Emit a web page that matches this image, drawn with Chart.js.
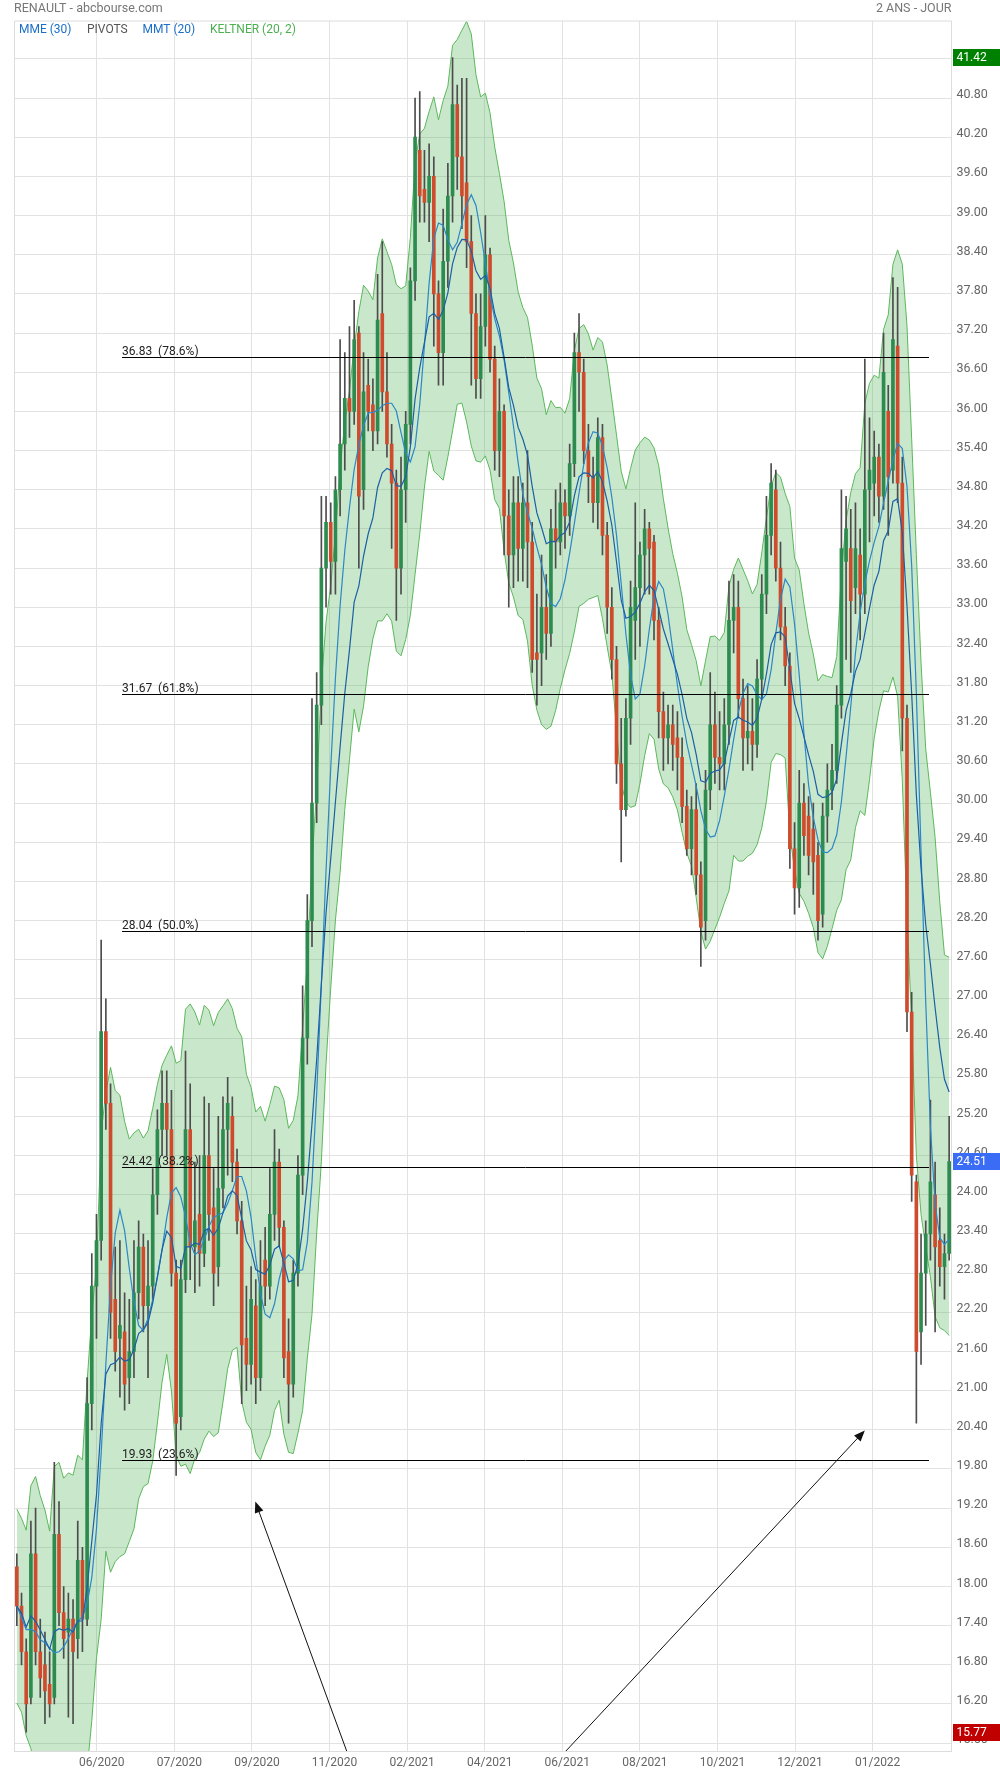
<!DOCTYPE html>
<html>
<head>
<meta charset="utf-8">
<title>RENAULT - abcbourse.com</title>
<script src="https://cdn.jsdelivr.net/npm/chart.js@4.4.1/dist/chart.umd.min.js"></script>
<style>
  html, body { margin: 0; padding: 0; background: #fff; }
  #chart { display: block; }
</style>
</head>
<body>
<canvas id="chart" width="1000" height="1774"></canvas>
<script>
// Renault, 2 years, one candle per ~2 trading days
const openPrices = [
  18.3, 17.7, 17.0, 16.3, 18.5, 17.0, 16.8, 16.5, 16.3, 18.8,
  17.6, 17.3, 17.5, 17.2, 18.4, 17.5, 20.8, 22.6, 23.3, 26.5,
  25.4, 22.4, 21.8, 21.9, 21.2, 21.6, 22.5, 23.2, 22.3, 22.6,
  24.0, 25.0, 25.4, 25.0, 22.8, 20.6, 22.7, 25.0, 23.2, 23.7,
  23.1, 24.6, 23.8, 22.9, 24.1, 25.0, 25.2, 24.5, 23.6, 21.8,
  21.4, 22.3, 21.2, 23.0, 22.6, 23.7, 24.5, 23.5, 21.6, 21.1,
  22.8, 24.3, 26.4, 28.2, 30.0, 31.5, 33.6, 34.3, 33.7, 34.8,
  35.5, 36.2, 36.0, 37.2, 34.8, 36.4, 36.1, 35.7, 37.5, 36.3,
  35.5, 34.9, 33.6, 34.8, 35.8, 38.0, 40.0, 39.4, 39.2, 39.6,
  37.8, 36.9, 38.3, 39.3, 40.7, 39.9, 39.5, 38.6, 37.5, 36.5,
  37.3, 38.4, 36.8, 35.4, 36.0, 34.4, 33.8, 34.6, 33.9, 34.6,
  34.0, 32.3, 32.3, 33.0, 32.6, 34.2, 34.0, 34.6, 34.4, 35.2,
  36.9, 36.6, 35.4, 35.0, 34.6, 35.6, 34.1, 33.0, 32.2, 30.6,
  29.9, 31.3, 32.8, 33.3, 33.8, 34.2, 34.0, 32.8, 31.4, 31.0,
  31.2, 31.0, 30.7, 29.95, 29.3, 29.9, 28.9, 28.2, 30.2, 31.2,
  30.7, 30.6, 31.2, 32.8, 33.0, 31.6, 31.0, 31.1, 30.9, 31.9,
  33.2, 34.1, 34.8, 33.6, 32.7, 32.1, 29.3, 28.7, 30.0, 29.8,
  29.6, 29.2, 28.3, 29.8, 30.2, 30.5, 31.5, 33.7, 33.9, 33.3,
  33.8, 33.2, 34.8, 34.9, 35.3, 34.7, 36.0, 35.1, 37.0, 34.9,
  31.3, 26.8, 24.2, 21.9, 22.8, 23.4, 24.0, 23.3, 22.9, 23.1
];
const highPrices = [
  18.5, 17.9, 17.2, 19.0, 19.2, 17.5, 17.3, 17.0, 19.9, 19.3,
  18.0, 17.9, 17.8, 19.0, 18.6, 21.2, 23.1, 23.7, 27.9, 27.0,
  25.7, 23.2, 23.3, 22.5, 22.4, 23.3, 23.6, 23.4, 23.3, 24.4,
  25.3, 25.9, 25.9, 25.6, 23.0, 23.0, 26.2, 25.7, 24.5, 24.6,
  25.5, 25.4, 24.4, 25.2, 25.5, 25.8, 25.5, 24.7, 23.9, 22.6,
  22.9, 22.7, 23.3, 23.5, 24.4, 25.0, 24.7, 23.6, 22.1, 23.0,
  24.6, 27.2, 28.6, 31.6, 32.0, 34.7, 34.7, 34.6, 35.0, 37.1,
  36.9, 37.3, 37.7, 37.3, 36.9, 36.8, 36.5, 38.1, 38.6, 36.9,
  35.8, 35.1, 35.3, 36.0, 38.2, 40.8, 40.9, 40.0, 40.1, 39.9,
  38.0, 39.1, 39.8, 41.42, 41.0, 41.1, 41.1, 39.0, 37.8, 37.8,
  39.0, 38.5, 37.0, 36.5, 36.1, 34.8, 35.0, 35.0, 34.9, 35.4,
  34.3, 33.2, 33.8, 33.5, 34.5, 34.8, 34.9, 34.8, 35.5, 37.2,
  37.5, 36.8, 35.8, 35.3, 35.9, 35.8, 34.3, 33.3, 32.4, 31.3,
  31.6, 33.4, 34.6, 34.0, 34.5, 34.3, 34.1, 33.0, 31.7, 31.5,
  31.5, 31.4, 31.0, 30.2, 30.1, 30.3, 29.1, 30.5, 32.0, 31.7,
  31.4, 31.6, 33.4, 33.5, 33.4, 31.9, 31.8, 31.6, 32.2, 33.5,
  34.7, 35.2, 35.1, 34.0, 33.0, 32.3, 29.7, 30.5, 30.3, 30.1,
  30.0, 29.4, 30.0, 30.6, 30.9, 31.8, 34.8, 34.7, 34.5, 34.6,
  34.2, 36.8, 35.9, 35.7, 35.5, 37.2, 36.4, 38.05, 37.9, 35.3,
  31.5, 27.1, 24.3, 23.4, 23.6, 25.45, 24.5, 23.8, 23.4, 25.2
];
const lowPrices = [
  17.4, 16.8, 15.77, 16.2, 16.8, 16.3, 15.9, 16.0, 16.2, 17.4,
  16.9, 16.0, 15.9, 16.9, 17.0, 17.4, 20.4, 21.8, 23.0, 25.0,
  21.8, 21.3, 20.9, 20.7, 20.8, 21.2, 22.1, 21.9, 21.2, 22.4,
  23.7, 24.6, 24.6, 22.6, 19.7, 20.4, 22.5, 22.7, 22.5, 22.6,
  22.9, 23.3, 22.3, 22.6, 23.8, 24.3, 24.2, 23.4, 20.8, 21.0,
  21.1, 20.8, 21.0, 22.3, 22.4, 23.3, 23.2, 21.2, 20.5, 20.9,
  22.6, 24.0, 26.0, 27.8, 29.7, 31.2, 33.0, 33.2, 33.2, 34.4,
  35.1, 35.6, 35.8, 33.6, 34.5, 35.7, 35.4, 35.5, 36.0, 35.3,
  33.9, 32.8, 33.2, 34.3, 35.5, 37.7, 38.9, 38.9, 38.6, 37.0,
  36.4, 36.4, 37.9, 38.9, 39.4, 38.8, 38.2, 36.4, 36.2, 36.2,
  37.0, 36.6, 35.1, 35.0, 33.8, 33.0, 33.3, 33.4, 33.4, 33.3,
  32.0, 31.5, 31.8, 32.2, 32.4, 33.6, 33.8, 33.9, 34.1, 35.0,
  36.0, 35.2, 34.6, 34.3, 34.2, 33.8, 32.6, 31.9, 30.3, 29.1,
  29.8, 30.9, 32.2, 32.4, 33.2, 33.2, 32.5, 31.0, 30.5, 30.6,
  30.5, 30.2, 29.7, 29.2, 28.9, 28.6, 27.5, 27.9, 29.9, 30.3,
  30.2, 30.2, 30.9, 32.3, 31.3, 30.5, 30.6, 30.5, 30.7, 31.6,
  32.9, 33.8, 33.4, 32.5, 31.8, 29.0, 28.3, 28.4, 29.2, 28.9,
  28.6, 27.9, 28.1, 29.4, 29.9, 30.3, 31.3, 32.2, 32.0, 32.9,
  32.5, 32.9, 34.0, 34.4, 34.3, 34.5, 34.1, 34.9, 34.6, 30.8,
  26.5, 23.9, 20.5, 21.4, 22.0, 23.0, 21.9, 22.6, 22.4, 23.0
];
const closePrices = [
  17.7, 17.0, 16.2, 18.5, 17.0, 16.6, 16.4, 16.2, 18.8, 17.6,
  17.2, 17.5, 17.0, 18.4, 17.5, 20.8, 22.6, 23.3, 26.5, 25.4,
  22.2, 21.6, 22.0, 21.1, 21.6, 22.5, 23.2, 22.3, 22.6, 24.0,
  25.0, 25.4, 25.0, 22.8, 20.5, 22.7, 25.0, 23.2, 23.6, 23.1,
  24.6, 23.7, 22.8, 24.1, 25.0, 25.4, 24.5, 23.6, 21.7, 21.4,
  22.4, 21.2, 22.6, 22.6, 23.7, 24.5, 23.5, 21.5, 21.1, 22.8,
  24.3, 26.4, 28.2, 30.0, 31.5, 33.6, 34.3, 33.7, 34.8, 35.5,
  36.2, 36.0, 37.1, 34.7, 36.3, 36.0, 35.7, 37.4, 36.3, 35.5,
  34.9, 33.6, 34.8, 35.8, 38.0, 40.2, 39.3, 39.2, 39.6, 37.8,
  36.9, 38.3, 39.3, 40.7, 39.9, 39.3, 38.6, 37.5, 36.5, 37.3,
  38.4, 36.8, 35.4, 36.0, 34.4, 33.8, 34.6, 33.9, 34.6, 34.0,
  32.2, 32.2, 33.0, 32.6, 34.2, 34.0, 34.6, 34.4, 35.2, 36.9,
  36.6, 35.4, 35.0, 34.6, 35.6, 34.1, 33.0, 32.2, 30.6, 29.9,
  31.3, 33.0, 33.3, 33.8, 34.2, 33.9, 32.8, 31.4, 31.0, 31.2,
  30.9, 30.7, 29.95, 29.3, 29.9, 28.9, 28.1, 30.2, 31.2, 30.7,
  30.6, 31.2, 32.8, 33.0, 31.6, 31.0, 31.1, 30.9, 31.9, 33.2,
  34.1, 34.9, 33.6, 32.7, 32.1, 29.3, 28.7, 30.0, 29.5, 29.2,
  29.1, 28.2, 29.8, 30.2, 30.5, 31.5, 33.9, 34.2, 33.1, 33.9,
  33.2, 34.8, 35.1, 35.3, 34.7, 36.6, 35.0, 37.1, 34.9, 31.3,
  26.8, 24.3, 21.6, 22.8, 23.4, 24.2, 23.2, 22.9, 23.1, 24.51
];

const tickLabels = ["06/2020", "07/2020", "09/2020", "11/2020", "02/2021", "04/2021",
                    "06/2021", "08/2021", "10/2021", "12/2021", "01/2022"];

// fibonacci levels drawn across the chart
const fibLevels = [36.83, 31.67, 28.04, 24.42, 19.93];
const fibPercents = [78.6, 61.8, 50.0, 38.2, 23.6];

// two hand-drawn arrows (bar index / price)
const arrowTailBar = [70.4, 117.2];
const arrowTailPrice = [15.48, 15.48];
const arrowHeadBar = [50.9, 181.0];
const arrowHeadPrice = [19.30, 20.39];

const barCount = closePrices.length;
const firstTickBar = 17.07;
const tickEveryBars = 16.56;
const fibStartBar = 22.4;
const fibEndBar = 194.6;

// indicator periods scaled to the 2-day candles
const mmePeriod = 12;
const mmtPeriod = 8;
const keltnerPeriod = 9;
const keltnerMult = 1.35;

const UP = "#2e8b4f";
const DOWN = "#cf4b2d";
const WICK = "#4d4d4d";
const FONT = "Roboto";

function ema(values, period) {
  const k = 2 / (period + 1);
  let prev = values[0];
  return values.map((v, i) => (prev = i === 0 ? v : prev + k * (v - prev)));
}

function sma(values, period) {
  return values.map((v, i) => {
    const w = values.slice(Math.max(0, i - period + 1), i + 1);
    return w.reduce((a, b) => a + b, 0) / w.length;
  });
}

const mme = ema(closePrices, mmePeriod);
const mmt = sma(sma(closePrices, Math.ceil(mmtPeriod / 2)), Math.floor(mmtPeriod / 2) + 1);

const trueRange = highPrices.map((h, i) => {
  const l = lowPrices[i];
  if (i === 0) return h - l;
  const pc = closePrices[i - 1];
  return Math.max(h - l, Math.abs(h - pc), Math.abs(l - pc));
});
const atr = ema(trueRange, keltnerPeriod);
const kMid = ema(closePrices, keltnerPeriod);
const kUpper = kMid.map((m, i) => m + keltnerMult * atr[i]);
const kLower = kMid.map((m, i) => m - keltnerMult * atr[i]);

const pts = arr => arr.map((v, i) => ({ x: i, y: v }));
const bodyColors = closePrices.map((c, i) => (c >= openPrices[i] ? UP : DOWN));

const datasets = [
  {
    type: "line", data: pts(kUpper), borderColor: "#5cb85c", borderWidth: 1,
    pointRadius: 0, fill: false, order: 6
  },
  {
    type: "line", data: pts(kLower), borderColor: "#5cb85c", borderWidth: 1,
    pointRadius: 0, fill: "-1", backgroundColor: "rgba(76,175,80,0.3)", order: 6
  },
  {
    type: "bar", data: highPrices.map((h, i) => ({ x: i, y: [lowPrices[i], h] })),
    backgroundColor: WICK, barThickness: 1, grouped: false, order: 5
  },
  {
    type: "bar", data: closePrices.map((c, i) => ({ x: i, y: [openPrices[i], c] })),
    backgroundColor: bodyColors, barThickness: 3, minBarLength: 1, grouped: false, order: 4
  },
  {
    type: "line", data: pts(mme), borderColor: "#1a5fa8", borderWidth: 1.2,
    pointRadius: 0, fill: false, order: 3
  },
  {
    type: "line", data: pts(mmt), borderColor: "#2b87c8", borderWidth: 1.2,
    pointRadius: 0, fill: false, order: 3
  }
];

const overlay = {
  id: "overlay",
  afterDatasetsDraw(chart) {
    const { ctx, scales: { x, y } } = chart;
    ctx.save();
    // fib lines + labels, snapped to whole pixels so they stay crisp
    ctx.strokeStyle = "#000";
    ctx.lineWidth = 1;
    ctx.font = "12px " + FONT;
    ctx.fillStyle = "#222";
    ctx.textAlign = "left";
    ctx.textBaseline = "alphabetic";
    const fx0 = Math.round(x.getPixelForValue(fibStartBar));
    const fx1 = Math.round(x.getPixelForValue(fibEndBar));
    fibLevels.forEach((lvl, i) => {
      const fy = Math.round(y.getPixelForValue(lvl)) + 0.5;
      ctx.beginPath();
      ctx.moveTo(fx0, fy);
      ctx.lineTo(fx1, fy);
      ctx.stroke();
      ctx.fillText(lvl.toFixed(2) + "  (" + fibPercents[i].toFixed(1) + "%)", fx0, fy - 3);
    });
    // arrows
    ctx.strokeStyle = "#111";
    ctx.fillStyle = "#111";
    arrowTailBar.forEach((tb, i) => {
      const x0 = x.getPixelForValue(tb), y0 = y.getPixelForValue(arrowTailPrice[i]);
      const x1 = x.getPixelForValue(arrowHeadBar[i]), y1 = y.getPixelForValue(arrowHeadPrice[i]);
      const a = Math.atan2(y1 - y0, x1 - x0);
      ctx.beginPath();
      ctx.moveTo(x0, y0);
      ctx.lineTo(x1 - 8 * Math.cos(a), y1 - 8 * Math.sin(a));
      ctx.stroke();
      ctx.beginPath();
      ctx.moveTo(x1, y1);
      ctx.lineTo(x1 - 11 * Math.cos(a) + 4.5 * Math.sin(a), y1 - 11 * Math.sin(a) - 4.5 * Math.cos(a));
      ctx.lineTo(x1 - 11 * Math.cos(a) - 4.5 * Math.sin(a), y1 - 11 * Math.sin(a) + 4.5 * Math.cos(a));
      ctx.closePath();
      ctx.fill();
    });
    ctx.restore();
  },
  afterDraw(chart) {
    const { ctx, chartArea: ca, scales: { y } } = chart;
    ctx.save();
    // frame on the top and left
    ctx.strokeStyle = "#dcdcdc";
    ctx.lineWidth = 1;
    ctx.beginPath();
    ctx.moveTo(ca.left, ca.bottom);
    ctx.lineTo(ca.left, ca.top);
    ctx.lineTo(ca.right, ca.top);
    ctx.stroke();

    // header
    ctx.font = "12.5px " + FONT;
    ctx.textBaseline = "middle";
    ctx.fillStyle = "#777";
    ctx.textAlign = "left";
    ctx.fillText("RENAULT - abcbourse.com", 14, 9);
    ctx.textAlign = "right";
    ctx.fillText("2 ANS - JOUR", ca.right, 9);

    // indicator legend
    ctx.textAlign = "left";
    ctx.font = "12px " + FONT;
    const legend = [["MME (30)", "#1c6fc9", 19], ["PIVOTS", "#555", 87],
                    ["MMT (20)", "#1c6fc9", 142.5], ["KELTNER (20, 2)", "#4caf50", 210]];
    legend.forEach(([t, c, lx]) => { ctx.fillStyle = c; ctx.fillText(t, lx, 29.5); });

    // price boxes on the axis
    const boxes = [
      [Math.max(...highPrices), "#008000"],
      [closePrices[barCount - 1], "#3b6cf6"],
      [Math.min(...lowPrices), "#c00000"]
    ];
    boxes.forEach(([v, c]) => {
      const py = y.getPixelForValue(v);
      ctx.fillStyle = c;
      ctx.fillRect(ca.right + 1.5, Math.round(py - 8.5), chart.width - ca.right - 1.5, 17);
      ctx.fillStyle = "#fff";
      ctx.fillText(v.toFixed(2), ca.right + 5, py + 0.5);
    });
    ctx.restore();
  }
};

new Chart(document.getElementById("chart"), {
  type: "bar",
  data: { datasets },
  options: {
    responsive: false,
    animation: false,
    devicePixelRatio: 1,
    layout: { padding: { left: 14.5, top: 21, right: 0, bottom: 0 } },
    plugins: { legend: { display: false }, tooltip: { enabled: false } },
    scales: {
      x: {
        type: "linear",
        min: -0.5,
        max: barCount - 0.5,
        offset: false,
        grid: { color: "#e2e2e2", drawTicks: false, offset: false },
        border: { color: "#dcdcdc" },
        afterBuildTicks: s => { s.ticks = tickLabels.map((_, k) => ({ value: firstTickBar + k * tickEveryBars })); },
        afterFit: s => { s.height = 23; },
        ticks: {
          autoSkip: false, maxRotation: 0, minRotation: 0, padding: 5, labelOffset: 5,
          color: "#666", font: { family: FONT, size: 12 },
          callback: (v, i) => tickLabels[i]
        }
      },
      y: {
        type: "linear",
        position: "right",
        min: 15.48,
        max: 41.98,
        grid: { color: "#e2e2e2", drawTicks: false },
        border: { color: "#dcdcdc" },
        afterFit: s => { s.width = 48.5; },
        ticks: {
          stepSize: 0.6, includeBounds: false, padding: 5, labelOffset: -3,
          color: "#666", font: { family: FONT, size: 12.5 },
          callback: v => v.toFixed(2)
        }
      }
    }
  },
  plugins: [overlay]
});
</script>
</body>
</html>
